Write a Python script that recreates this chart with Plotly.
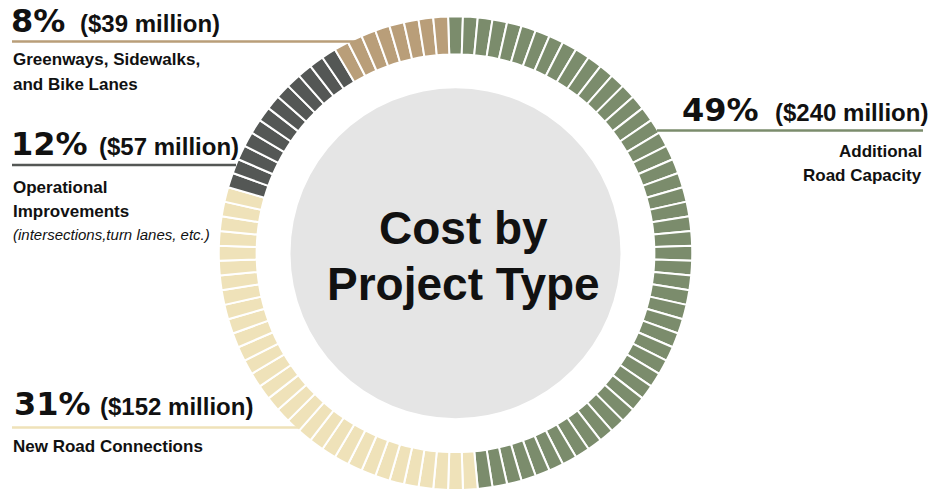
import plotly.graph_objects as go

# Spending split by project type
categories = ["Additional Road Capacity", "New Road Connections",
              "Operational Improvements", "Greenways, Sidewalks, and Bike Lanes"]
percent = [49, 31, 12, 8]
cost_millions = [240, 152, 57, 39]
colors = ["#7b8c6c", "#efe2b9", "#545755", "#b99e79"]

W, H = 940, 490


def px(x):
    return x / W


def py(y):
    return 1 - y / H


# One ring tile per percentage point
seg_colors = []
for pct, col in zip(percent, colors):
    seg_colors += [col] * pct
seg_values = [1] * len(seg_colors)

# ring sits against the bottom edge; top of ring at y = 16.5 px
top = 16.5
R = (H - top) / 2
cx, cy = 455.5, top + R
ring = go.Pie(
    values=seg_values,
    sort=False,
    direction="clockwise",
    rotation=-1.8,
    hole=0.84,
    textinfo="none",
    hoverinfo="skip",
    showlegend=False,
    marker=dict(colors=seg_colors, line=dict(color="white", width=2)),
    domain=dict(x=[px(cx - R - 2), px(cx + R + 2)], y=[0, py(top)]),
)

fig = go.Figure(ring)

shapes = []
# centre disc
rc = 165
shapes.append(dict(type="circle", xref="paper", yref="paper",
                   x0=px(cx - rc), x1=px(cx + rc), y0=py(cy + rc), y1=py(cy - rc),
                   fillcolor="#e5e5e5", line=dict(width=0), layer="below"))

# leader lines: (x0, x1, y, colour)
leaders = [
    (12, 356, 41.5, colors[3]),
    (12, 236, 165, colors[2]),
    (12, 298, 427.5, colors[1]),
    (657, 923, 130.5, colors[0]),
]
for x0, x1, y, col in leaders:
    shapes.append(dict(type="line", xref="paper", yref="paper",
                       x0=px(x0), x1=px(x1), y0=py(y), y1=py(y),
                       line=dict(color=col, width=2.5)))

BIG = "DejaVu Sans, sans-serif"
ARIAL = "Liberation Sans, Arial, sans-serif"

annotations = []


def label(text, x, baseline, size, family, anchor="left", italic=False):
    annotations.append(dict(
        text=f"<i>{text}</i>" if italic else text,
        x=px(x), y=py(baseline - 0.35 * size),
        xref="paper", yref="paper", xanchor=anchor, yanchor="middle",
        showarrow=False, borderpad=0,
        font=dict(family=family, size=size, color="#111111",
                  weight="normal" if italic else "bold"),
        align=anchor,
    ))


# Greenways (8%)
label(f"{percent[3]}%", 10, 32, 32, BIG)
label(f"(${cost_millions[3]} million)", 79, 32, 24, ARIAL)
label("Greenways, Sidewalks,", 12, 65, 17, ARIAL)
label("and Bike Lanes", 12, 90, 17, ARIAL)

# Operational (12%)
label(f"{percent[2]}%", 10, 155, 32, BIG)
label(f"(${cost_millions[2]} million)", 98, 155, 24, ARIAL)
label("Operational", 12, 193, 17, ARIAL)
label("Improvements", 12, 217, 17, ARIAL)
label("(intersections,turn lanes, etc.)", 12, 240, 15, ARIAL, italic=True)

# New roads (31%)
label(f"{percent[1]}%", 13, 415, 32, BIG)
label(f"(${cost_millions[1]} million)", 99, 415, 24, ARIAL)
label("New Road Connections", 12, 452, 17, ARIAL)

# Road capacity (49%)
label(f"{percent[0]}%", 681, 121, 32, BIG)
label(f"(${cost_millions[0]} million)", 774, 121, 24, ARIAL)
label("Additional", 923, 157, 17, ARIAL, anchor="right")
label("Road Capacity", 923, 181, 17, ARIAL, anchor="right")

# Centre title, one annotation per line
label("Cost by", 463, 244, 46, ARIAL, anchor="center")
label("Project Type", 463, 300, 46, ARIAL, anchor="center")

fig.update_layout(
    width=W, height=H,
    margin=dict(l=0, r=0, t=0, b=0),
    paper_bgcolor="white", plot_bgcolor="white",
    shapes=shapes, annotations=annotations,
    showlegend=False,
)

fig.write_html("out.html", include_plotlyjs=True, config={"displayModeBar": False})
